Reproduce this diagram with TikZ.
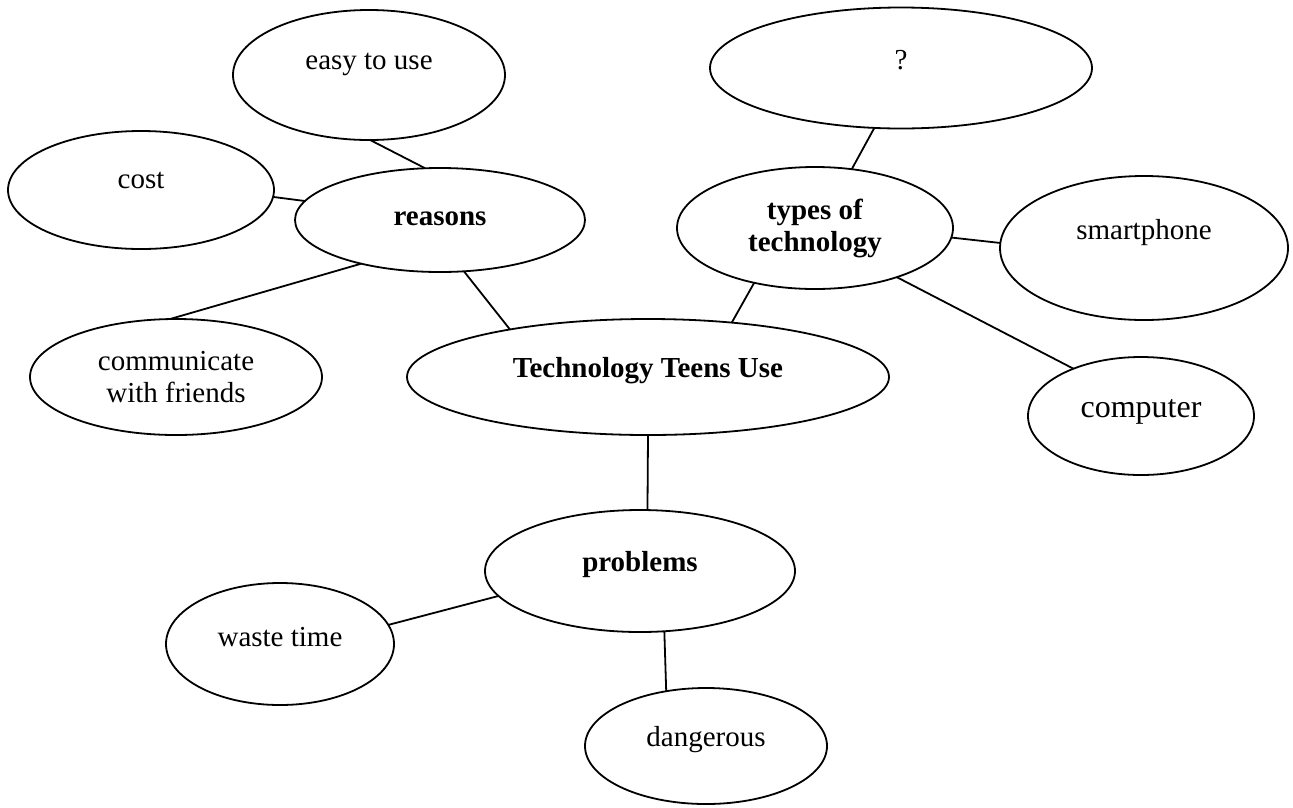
\documentclass[tikz,border=0pt]{standalone}
\usepackage{fontspec}
\setmainfont{Liberation Serif}
\usetikzlibrary{shapes.geometric}
\begin{document}
\begin{tikzpicture}[x=1pt,y=-1pt,
  ell/.style={draw, ellipse, line width=1.8pt, inner sep=0pt, outer sep=0pt,
    align=center, font=\fontsize{29}{32}\selectfont},
  lbl/.style={anchor=base, inner sep=0pt, font=\fontsize{29}{34}\selectfont},
  conn/.style={line width=1.8pt}]
\useasboundingbox (0,0) rectangle (1293,807);

\node[ell, minimum width=272pt, minimum height=130pt,
  label={[lbl,yshift=11pt]center:easy to use}] (easy) at (369,75) {};
\node[ell, minimum width=382pt, minimum height=121pt,
  label={[lbl,yshift=8pt]center:?}] (q) at (901,68) {};
\node[ell, minimum width=266pt, minimum height=118pt,
  label={[lbl,yshift=10pt]center:cost}] (cost) at (141,190) {};
\node[ell, minimum width=290pt, minimum height=104pt,
  label={[lbl,yshift=1pt]center:\textbf{reasons}}] (reasons) at (440,220) {};
\node[ell, minimum width=276pt, minimum height=122pt] (types) at (815,228)
  {\textbf{types of}\\\textbf{technology}};
\node[ell, minimum width=288pt, minimum height=144pt,
  label={[lbl,yshift=15pt]center:smartphone}] (smart) at (1144,248) {};
\node[ell, minimum width=292pt, minimum height=116pt] (comm) at (176,377)
  {communicate\\with friends};
\node[ell, minimum width=482pt, minimum height=116pt,
  label={[lbl,yshift=6pt]center:\textbf{Technology Teens Use}}] (tech) at (648,377) {};
\node[ell, minimum width=226pt, minimum height=118pt,
  label={[lbl,yshift=4pt,font=\fontsize{32}{36}\selectfont]center:computer}] (comp) at (1141,416) {};
\node[ell, minimum width=310pt, minimum height=122pt,
  label={[lbl,yshift=6pt]center:\textbf{problems}}] (prob) at (640,571) {};
\node[ell, minimum width=228pt, minimum height=122pt,
  label={[lbl,yshift=7pt]center:waste time}] (waste) at (280,644) {};
\node[ell, minimum width=242pt, minimum height=116pt,
  label={[lbl,yshift=6pt]center:dangerous}] (dang) at (706,746) {};

\draw[conn] (easy.-89) -- (reasons.106);
\draw[conn] (cost.-3) -- (reasons.172);
\draw[conn] (reasons.209) -- (comm.96);
\draw[conn] (reasons.-65) -- (tech.161);
\draw[conn] (types.58) -- (q.-114);
\draw[conn] (types.-4) -- (smart.178);
\draw[conn] (types.-31) -- (comp.145);
\draw[conn] (types.222) -- (tech.33);
\draw[conn] (tech.-90) -- (prob.83);
\draw[conn] (prob.190) -- (waste.10);
\draw[conn] (prob.-68) -- (dang.126);
\end{tikzpicture}
\end{document}
